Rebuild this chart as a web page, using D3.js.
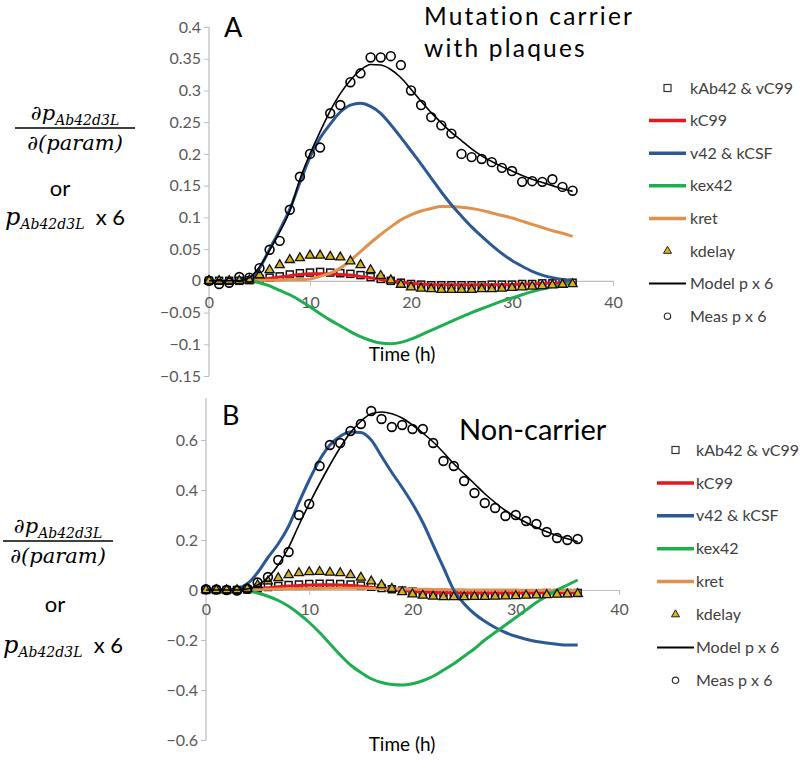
<!DOCTYPE html>
<html><head><meta charset="utf-8">
<script src="https://cdn.jsdelivr.net/npm/d3@7"></script>
<style>body{margin:0;background:#fff}svg{display:block}</style>
</head><body><svg id="c" width="800" height="761"></svg>
<script>
const hours = [0,1,2,3,4,5,6,7,8,9,10,11,12,13,14,15,16,17,18,19,20,21,22,23,24,25,26,27,28,29,30,31,32,33,34,35,36];
const xTicks = [0,10,20,30,40];
const yTicksA = [-0.15,-0.1,-0.05,0,0.05,0.1,0.15,0.2,0.25,0.3,0.35,0.4];
const yTicksB = [-0.6,-0.4,-0.2,0,0.2,0.4,0.6];
const legendLabels = ["kAb42 & vC99","kC99","v42 & kCSF","kex42","kret","kdelay","Model p x 6","Meas p x 6"];

// Panel A (mutation carrier with plaques)
const aSquares = [0,0,0,0,0.001,0.003,0.005,0.007,0.01,0.012,0.013,0.014,0.013,0.012,0.011,0.009,0.006,0.003,0,-0.003,-0.005,-0.006,-0.007,-0.007,-0.007,-0.007,-0.007,-0.007,-0.006,-0.006,-0.006,-0.005,-0.005,-0.004,-0.004,-0.003,-0.003];
const aKC99 = [0,0,0,0,0.001,0.002,0.004,0.006,0.008,0.01,0.011,0.011,0.011,0.01,0.009,0.007,0.005,0.002,0,-0.002,-0.004,-0.005,-0.006,-0.006,-0.006,-0.006,-0.006,-0.006,-0.006,-0.006,-0.006,-0.005,-0.005,-0.004,-0.004,-0.003,-0.003];
const aV42 = [0,0,0,0,0.003,0.02,0.05,0.08,0.113,0.155,0.195,0.225,0.247,0.266,0.277,0.28,0.275,0.264,0.246,0.226,0.205,0.184,0.162,0.14,0.12,0.102,0.085,0.07,0.056,0.043,0.032,0.023,0.015,0.009,0.005,0.002,0];
const aKex42 = [0,0,0,0,0,-0.003,-0.008,-0.015,-0.022,-0.031,-0.041,-0.052,-0.062,-0.071,-0.08,-0.088,-0.094,-0.098,-0.099,-0.097,-0.092,-0.085,-0.078,-0.071,-0.064,-0.057,-0.05,-0.044,-0.038,-0.032,-0.027,-0.022,-0.017,-0.013,-0.009,-0.006,-0.003];
const aKret = [0,0,0,0,0,0.001,0.001,0.001,0.002,0.002,0.003,0.007,0.012,0.02,0.032,0.046,0.06,0.073,0.085,0.096,0.104,0.11,0.114,0.117,0.117,0.116,0.114,0.111,0.107,0.103,0.099,0.094,0.089,0.084,0.079,0.075,0.07];
const aKdelay = [0,0,0,0,0.001,0.009,0.017,0.025,0.033,0.036,0.04,0.04,0.038,0.037,0.031,0.025,0.017,0.008,0.001,-0.006,-0.01,-0.012,-0.013,-0.014,-0.014,-0.014,-0.014,-0.013,-0.013,-0.012,-0.011,-0.01,-0.009,-0.008,-0.007,-0.006,-0.005];
const aModel = [0,0,0,0,0.005,0.022,0.048,0.077,0.11,0.16,0.2,0.235,0.268,0.295,0.316,0.332,0.341,0.34,0.333,0.32,0.302,0.283,0.265,0.249,0.234,0.221,0.208,0.197,0.188,0.18,0.173,0.166,0.16,0.155,0.15,0.145,0.141];
const aMeas = [0,-0.005,-0.003,0.006,0.005,0.02,0.049,0.063,0.112,0.164,0.2,0.21,0.264,0.277,0.313,0.327,0.352,0.352,0.354,0.34,0.3,0.277,0.258,0.245,0.232,0.2,0.195,0.192,0.187,0.178,0.173,0.156,0.157,0.156,0.16,0.148,0.142];

// Panel B (non-carrier)
const bSquares = [0,0,0,0,0.002,0.007,0.012,0.016,0.02,0.022,0.024,0.025,0.025,0.024,0.022,0.018,0.013,0.008,0.003,-0.002,-0.006,-0.009,-0.011,-0.012,-0.013,-0.013,-0.013,-0.013,-0.013,-0.013,-0.013,-0.013,-0.013,-0.012,-0.012,-0.012,-0.012];
const bKC99 = [0,0,0,0,0.001,0.005,0.009,0.013,0.016,0.018,0.02,0.021,0.021,0.02,0.018,0.015,0.011,0.007,0.002,-0.002,-0.005,-0.008,-0.01,-0.011,-0.012,-0.012,-0.012,-0.012,-0.012,-0.012,-0.012,-0.012,-0.012,-0.011,-0.011,-0.011,-0.011];
const bV42 = [0,0,0,0.005,0.025,0.07,0.13,0.185,0.255,0.35,0.44,0.52,0.58,0.615,0.632,0.63,0.6,0.535,0.47,0.41,0.345,0.27,0.18,0.09,0.0,-0.055,-0.095,-0.125,-0.15,-0.17,-0.185,-0.197,-0.206,-0.212,-0.217,-0.22,-0.22];
const bKex42 = [0,0,0,0,-0.003,-0.012,-0.025,-0.042,-0.065,-0.095,-0.13,-0.17,-0.215,-0.26,-0.3,-0.33,-0.355,-0.37,-0.378,-0.38,-0.375,-0.363,-0.345,-0.32,-0.295,-0.265,-0.235,-0.2,-0.17,-0.14,-0.11,-0.08,-0.05,-0.025,0,0.02,0.04];
const bKret = [0,0,0,0,0,0.002,0.003,0.004,0.005,0.005,0.006,0.006,0.007,0.007,0.007,0.007,0.006,0.006,0.005,0.004,0.004,0.003,0.002,0.002,0.001,0.001,0,0,0,0,0,-0.001,-0.001,-0.001,-0.002,-0.002,-0.002];
const bKdelay = [0,0,0,0,0.005,0.02,0.035,0.048,0.06,0.068,0.072,0.073,0.07,0.068,0.06,0.05,0.035,0.02,0.005,-0.008,-0.017,-0.022,-0.026,-0.028,-0.028,-0.028,-0.027,-0.027,-0.026,-0.025,-0.024,-0.022,-0.021,-0.02,-0.018,-0.017,-0.015];
const bModel = [0,0,0,0,0.004,0.02,0.05,0.1,0.17,0.26,0.345,0.425,0.5,0.57,0.63,0.675,0.705,0.712,0.705,0.688,0.66,0.628,0.592,0.55,0.505,0.465,0.425,0.385,0.35,0.318,0.292,0.27,0.25,0.233,0.218,0.205,0.193];
const bMeas = [0.003,0.002,0,-0.002,0.005,0.03,0.052,0.12,0.152,0.3,0.344,0.496,0.58,0.588,0.636,0.664,0.716,0.684,0.652,0.66,0.644,0.644,0.588,0.516,0.496,0.436,0.388,0.348,0.328,0.296,0.3,0.276,0.264,0.232,0.208,0.2,0.204];

const COL = {red:"#e8161d", blue:"#2c5894", green:"#1fae4f", orange:"#e0914e", tri:"#d8b21a"};
const FONT = "Lato, 'Open Sans', sans-serif";
const svg = d3.select("#c");

function panel(cfg){
  const g = svg.append("g");
  const x = cfg.x, y = cfg.y;
  // y axis
  const ya = g.append("g").attr("transform",`translate(${x(0)},0)`)
    .call(d3.axisLeft(y).tickValues(cfg.yTicks).tickSize(5).tickSizeOuter(0).tickFormat(d=>d3.format("")(+d.toFixed(2))));
  ya.select(".domain").remove();
  ya.append("line").attr("x1",0).attr("x2",0).attr("y1",y(cfg.yTop)).attr("y2",y(cfg.yTicks[0])).attr("stroke","#bdbdbd").attr("stroke-width",1.2);
  ya.selectAll(".tick line").attr("stroke","#bdbdbd");
  ya.selectAll(".tick text").attr("x",-8).attr("fill","#595959").style("font-family",FONT).style("font-size","16px");
  // x axis at zero
  const xa = g.append("g").attr("transform",`translate(0,${y(0)})`)
    .call(d3.axisBottom(x).tickValues(xTicks).tickSize(5).tickSizeOuter(0));
  xa.select(".domain").attr("stroke","#bdbdbd").attr("stroke-width",1.2);
  xa.selectAll(".tick line").attr("stroke","#bdbdbd");
  xa.selectAll(".tick text").attr("y",cfg.xTickDy).attr("fill","#595959").style("font-family",FONT).style("font-size","16px");

  const line = d3.line().x((d,i)=>x(hours[i])).y(d=>y(d)).curve(d3.curveMonotoneX);
  // squares
  g.append("g").selectAll("rect").data(cfg.squares).join("rect")
    .attr("x",(d,i)=>x(hours[i])-3.5).attr("y",d=>y(d)-3.5).attr("width",7).attr("height",7)
    .attr("fill","#fff").attr("stroke","#111").attr("stroke-width",1.5);
  g.append("path").datum(cfg.kc99).attr("d",line).attr("fill","none").attr("stroke",COL.red).attr("stroke-width",3);
  g.append("path").datum(cfg.kret).attr("d",line).attr("fill","none").attr("stroke",COL.orange).attr("stroke-width",3);
  g.append("path").datum(cfg.v42).attr("d",line).attr("fill","none").attr("stroke",COL.blue).attr("stroke-width",3);
  g.append("path").datum(cfg.kex42).attr("d",line).attr("fill","none").attr("stroke",COL.green).attr("stroke-width",3);
  const tri = d3.symbol().type(d3.symbolTriangle).size(36);
  g.append("g").selectAll("path").data(cfg.kdelay).join("path")
    .attr("d",tri).attr("transform",(d,i)=>`translate(${x(hours[i])},${y(d)})`)
    .attr("fill",COL.tri).attr("stroke","#111").attr("stroke-width",1.3);
  g.append("path").datum(cfg.model).attr("d",line).attr("fill","none").attr("stroke","#000").attr("stroke-width",1.6);
  g.append("g").selectAll("circle").data(cfg.meas).join("circle")
    .attr("cx",(d,i)=>x(hours[i])).attr("cy",d=>y(d)).attr("r",4.4)
    .attr("fill","none").attr("stroke","#000").attr("stroke-width",1.6);

  // panel letter, title, x label
  g.append("text").attr("x",cfg.letterX).attr("y",cfg.letterY).text(cfg.letter)
    .style("font-family",FONT).style("font-size","27px").attr("fill","#000");
  cfg.title.forEach((t,i)=>g.append("text").attr("x",cfg.titleX).attr("y",cfg.titleY+i*cfg.titleStep).text(t)
    .style("font-family",FONT).style("font-size",cfg.titleSize+"px").style("letter-spacing",cfg.titleLS+"px").attr("fill","#000"));
  g.append("text").attr("x",cfg.xlabX).attr("y",cfg.xlabY).attr("text-anchor","middle").text("Time (h)")
    .style("font-family",FONT).style("font-size","19px").attr("fill","#000");

  // legend
  const lg = g.append("g").attr("transform",`translate(${cfg.legX},${cfg.legY})`);
  const kinds = ["sq","line","line","line","line","tri","thin","circ"];
  const cols = [null,COL.red,COL.blue,COL.green,COL.orange,null,"#000",null];
  legendLabels.forEach((lab,i)=>{
    const row = lg.append("g").attr("transform",`translate(0,${i*cfg.legStep})`);
    const k = kinds[i];
    if(k==="line"||k==="thin") row.append("line").attr("x1",0).attr("x2",37).attr("y1",0).attr("y2",0)
        .attr("stroke",cols[i]).attr("stroke-width",k==="line"?3.5:2);
    if(k==="sq") row.append("rect").attr("x",15).attr("y",-3.5).attr("width",7).attr("height",7).attr("fill","#fff").attr("stroke","#333").attr("stroke-width",1.2);
    if(k==="tri") row.append("path").attr("d",d3.symbol().type(d3.symbolTriangle).size(28)).attr("transform","translate(18.5,0)")
        .attr("fill",COL.tri).attr("stroke","#222").attr("stroke-width",1);
    if(k==="circ") row.append("circle").attr("cx",18.5).attr("cy",0).attr("r",3.2).attr("fill","none").attr("stroke","#333").attr("stroke-width",1.2);
    row.append("text").attr("x",cfg.legTextX).attr("y",0).attr("dy","0.35em").text(lab)
      .style("font-family",FONT).style("font-size","16px").attr("fill","#404040");
  });

  // y label (math)
  const yl = g.append("g").attr("transform",`translate(${cfg.ylX},${cfg.ylY})`);
  const MF = "'DejaVu Serif', 'Liberation Serif', serif";
  const num = yl.append("text").attr("x",cfg.fracW/2).attr("y",-8).attr("text-anchor","middle")
    .style("font-family",MF).style("font-style","italic").attr("fill","#000");
  num.append("tspan").text("∂p").style("font-size","21px");
  num.append("tspan").text("Ab42d3L").attr("dy",5).style("font-size","14px");
  yl.append("line").attr("x1",0).attr("x2",cfg.fracW).attr("y1",0).attr("y2",0).attr("stroke","#000").attr("stroke-width",1.6);
  yl.append("text").attr("x",cfg.fracW/2).attr("y",22).attr("text-anchor","middle").text("∂(param)")
    .style("font-family",MF).style("font-style","italic").style("font-size","21px").attr("fill","#000");
  yl.append("text").attr("x",cfg.orX).attr("y",cfg.orY).attr("text-anchor","middle").text("or")
    .style("font-family",FONT).style("font-size","22px").attr("fill","#000");
  const pl = yl.append("text").attr("x",cfg.pX).attr("y",cfg.pY).style("fill","#000");
  pl.append("tspan").text("p").style("font-family",MF).style("font-style","italic").style("font-size","24px");
  pl.append("tspan").text("Ab42d3L").attr("dy",4).style("font-family",MF).style("font-style","italic").style("font-size","14px");
  pl.append("tspan").text("\u00a0 x 6").attr("dy",-4).style("font-family",FONT).style("font-size","22px");
}

panel({
  x: d3.scaleLinear([0,40],[209,613]),
  y: d3.scaleLinear([-0.15,0.4],[376,27]),
  yTicks: yTicksA, yTop: 0.4, xTickDy: 16,
  squares:aSquares, kc99:aKC99, v42:aV42, kex42:aKex42, kret:aKret, kdelay:aKdelay, model:aModel, meas:aMeas,
  letter:"A", letterX:224, letterY:37,
  title:["Mutation carrier","with plaques"], titleX:424, titleY:25, titleStep:32, titleSize:24.5, titleLS:2.2,
  xlabX:402, xlabY:361,
  legX:649, legY:88, legStep:32.6, legTextX:41,
  ylX:15, ylY:128, fracW:120, orX:45, orY:68, pX:-10, pY:97
});
panel({
  x: d3.scaleLinear([0,40],[206,619]),
  y: d3.scaleLinear([-0.6,0.6],[740,440]),
  yTicks: yTicksB, yTop: 0.768, xTickDy: 14,
  squares:bSquares, kc99:bKC99, v42:bV42, kex42:bKex42, kret:bKret, kdelay:bKdelay, model:bModel, meas:bMeas,
  letter:"B", letterX:222, letterY:425,
  title:["Non-carrier"], titleX:459, titleY:440, titleStep:32, titleSize:29, titleLS:0,
  xlabX:402, xlabY:751,
  legX:657, legY:450, legStep:32.9, legTextX:39,
  ylX:3, ylY:541, fracW:110, orX:52, orY:71, pX:0, pY:112
});
</script></body></html>
